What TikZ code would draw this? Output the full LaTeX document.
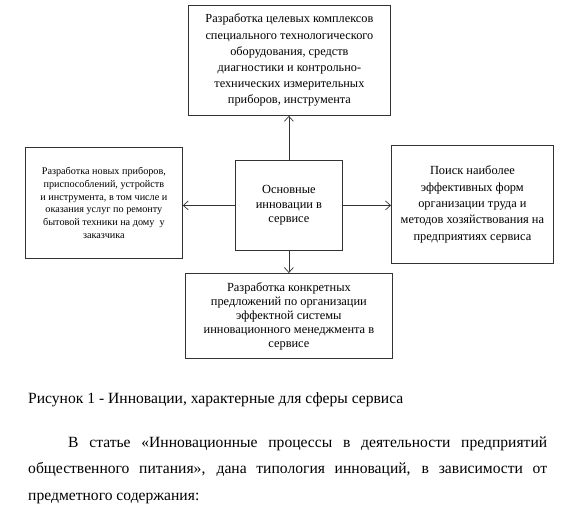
\documentclass[tikz,border=0pt]{standalone}
\usepackage{fontspec}
\setmainfont{Liberation Serif}
\usetikzlibrary{arrows.meta}
\begin{document}
\begin{tikzpicture}[x=1pt,y=-1pt,
  box/.style={draw=black!80,line width=0.8pt,inner sep=0pt,align=center},
  conn/.style={draw=black!80,line width=0.7pt,-{Straight Barb[length=5pt,width=9pt]}},
  txt/.style={inner sep=0pt,anchor=base west,font=\fontsize{15.6}{18}\selectfont}]
\useasboundingbox (0,0) rectangle (573,515);
\node[box,minimum width=202pt,minimum height=110pt,anchor=north west,font=\fontsize{12.3}{16.2}\selectfont] (top) at (188,5)
 {Разработка целевых комплексов\\специального технологического\\оборудования, средств\\диагностики и контрольно-\\технических измерительных\\приборов, инструмента};
\node[box,minimum width=157pt,minimum height=111pt,anchor=north west,font=\fontsize{10.2}{12.8}\selectfont] (left) at (25,147)
 {Разработка новых приборов,\\приспособлений, устройств\\и инструмента, в том числе и\\оказания услуг по ремонту\\бытовой техники на дому\ \ у\\заказчика};
\node[box,minimum width=107pt,minimum height=90pt,anchor=north west,font=\fontsize{12.4}{14.5}\selectfont] (mid) at (235,160)
 {Основные\\инновации в\\сервисе};
\node[box,minimum width=162pt,minimum height=118pt,anchor=north west,font=\fontsize{12.4}{16.3}\selectfont] (right) at (391,145)
 {Поиск наиболее\\эффективных форм\\организации труда и\\методов хозяйствования на\\предприятиях сервиса};
\node[box,minimum width=207pt,minimum height=85pt,anchor=north west,font=\fontsize{12.4}{14}\selectfont] (bot) at (185,273)
 {Разработка конкретных\\предложений по организации\\эффектной системы\\инновационного менеджмента в\\сервисе};
\draw[conn] (mid.north) -- (top.south -| mid.north);
\draw[conn] (mid.west) -- (left.east |- mid.west);
\draw[conn] (mid.east) -- (right.west |- mid.east);
\draw[conn] (mid.south) -- (bot.north -| mid.south);
\node[txt] (cap) at (28,403) {Рисунок 1 - Инновации, характерные для сферы сервиса};
\node[txt] (p1) at (68,447) {\makebox[479pt][s]{В статье «Инновационные процессы в деятельности предприятий}};
\node[txt] (p2) at (28,473) {\makebox[519pt][s]{общественного питания», дана типология инноваций, в зависимости от}};
\node[txt] (p3) at (28,500) {предметного содержания:};
\end{tikzpicture}
\end{document}
